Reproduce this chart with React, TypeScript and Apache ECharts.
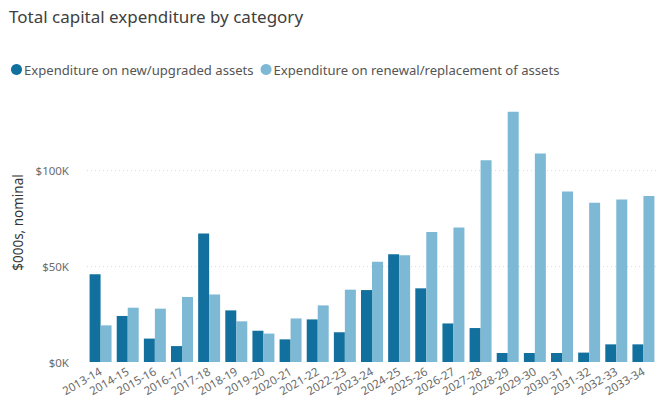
import React, { useEffect, useRef } from "react";
import * as echarts from "echarts";

const categories = [
  "2013-14", "2014-15", "2015-16", "2016-17", "2017-18", "2018-19", "2019-20",
  "2020-21", "2021-22", "2022-23", "2023-24", "2024-25", "2025-26", "2026-27",
  "2027-28", "2028-29", "2029-30", "2030-31", "2031-32", "2032-33", "2033-34",
];

const newUpgraded = [
  45800, 24000, 12200, 8300, 67000, 26900, 16300, 11800, 22200, 15500, 37500,
  56200, 38400, 20100, 17700, 4700, 4700, 4700, 4900, 9200, 9200,
];

const renewalReplacement = [
  19100, 28300, 27800, 33900, 35200, 21200, 14800, 22700, 29500, 37700, 52300,
  55700, 67700, 70100, 105200, 130500, 108700, 88900, 83000, 84700, 86500,
];

const seriesNames = [
  "Expenditure on new/upgraded assets",
  "Expenditure on renewal/replacement of assets",
];

const FONT = "'Segoe UI', 'Noto Sans', 'Open Sans', sans-serif";

export default function App() {
  const ref = useRef<HTMLDivElement>(null);
  useEffect(() => {
    if (!ref.current) return;
    const chart = echarts.init(ref.current, undefined, { renderer: "svg" });
    chart.setOption({
      animation: false,
      backgroundColor: "#ffffff",
      textStyle: { fontFamily: FONT },
      title: {
        text: "Total capital expenditure by category",
        left: 4,
        top: 3,
        textStyle: { fontFamily: FONT, fontSize: 17, fontWeight: "normal", color: "#404040" },
      },
      legend: {
        left: 6,
        top: 58,
        icon: "circle",
        itemWidth: 11,
        itemHeight: 11,
        itemGap: 7,
        textStyle: { fontFamily: FONT, fontSize: 13.1, color: "#555555", padding: [0, 0, 0, -3] },
        data: seriesNames,
      },
      grid: { left: 87, width: 572, top: 103, bottom: 43, containLabel: false },
      xAxis: {
        type: "category",
        data: categories,
        axisLine: { show: false },
        axisTick: { show: false },
        axisLabel: {
          rotate: 30,
          interval: 0,
          margin: 8,
          fontSize: 11.5,
          color: "#6b6b6b",
          fontFamily: FONT,
        },
      },
      yAxis: {
        type: "value",
        min: 0,
        max: 135000,
        interval: 50000,
        name: "$000s, nominal",
        nameLocation: "middle",
        nameGap: 55,
        nameRotate: 90,
        nameTextStyle: { fontFamily: FONT, fontSize: 13.5, color: "#333333", padding: [0, 0, 0, 20] },
        axisLine: { show: false },
        axisTick: { show: false },
        axisLabel: {
          showMaxLabel: false,
          margin: 18,
          fontSize: 11.5,
          color: "#6b6b6b",
          fontFamily: FONT,
          formatter: (v: number) => "$" + Math.round(v / 1000) + "K",
        },
        splitLine: {
          show: true,
          lineStyle: {
            type: [1, 3],
            width: 1,
            color: ["rgba(0,0,0,0)", "#dcdcdc", "#dcdcdc", "rgba(0,0,0,0)"],
          },
        },
      },
      series: [
        {
          name: seriesNames[0],
          type: "bar",
          data: newUpgraded,
          barGap: "0%",
          barCategoryGap: "19%",
          itemStyle: { color: "#12709f" },
        },
        {
          name: seriesNames[1],
          type: "bar",
          data: renewalReplacement,
          barGap: "0%",
          barCategoryGap: "19%",
          itemStyle: { color: "#7db8d5" },
        },
      ],
    });
    return () => chart.dispose();
  }, []);
  return <div ref={ref} style={{ width: 657, height: 405, position: "absolute", left: 0, top: 0 }} />;
}
